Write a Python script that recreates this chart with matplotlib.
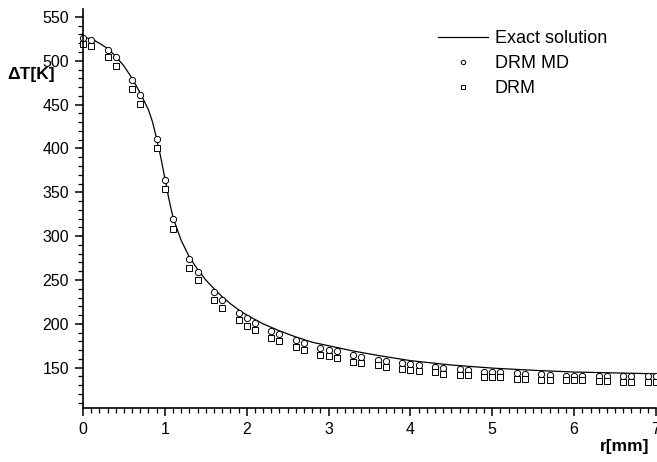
import matplotlib
matplotlib.use('Agg')
import matplotlib.pyplot as plt
from matplotlib.ticker import MultipleLocator

plt.rcParams['font.family'] = ['Liberation Sans', 'DejaVu Sans']

# exact solution
r_exact = [0.0, 0.1, 0.2, 0.3, 0.4, 0.5, 0.6, 0.7, 0.8, 0.85, 0.9, 0.95, 1.0, 1.05, 1.1,
           1.2, 1.3, 1.4, 1.5, 1.6, 1.7, 1.8, 1.9, 2.0, 2.2, 2.4, 2.6, 2.8, 3.0,
           3.3, 3.6, 4.0, 4.5, 5.0, 5.5, 6.0, 6.5, 7.0]
t_exact = [527, 525, 520, 514, 505, 494, 480, 463, 444, 430, 411, 390, 366, 342, 321,
           295, 276, 262, 250, 240, 231, 223, 216, 210, 200, 192, 185, 179, 175,
           169, 164, 158, 153, 149.5, 147, 145, 144, 143]

# node positions
r_nodes = [0.0, 0.1, 0.3, 0.4, 0.6, 0.7, 0.9, 1.0, 1.1, 1.3, 1.4, 1.6, 1.7, 1.9, 2.0,
           2.1, 2.3, 2.4, 2.6, 2.7, 2.9, 3.0, 3.1, 3.3, 3.4, 3.6, 3.7, 3.9, 4.0,
           4.1, 4.3, 4.4, 4.6, 4.7, 4.9, 5.0, 5.1, 5.3, 5.4, 5.6, 5.7, 5.9, 6.0,
           6.1, 6.3, 6.4, 6.6, 6.7, 6.9, 7.0]

t_drm_md = [526, 524, 512, 504, 478, 461, 411, 364, 319, 274, 259, 236, 227, 212, 207,
            201, 192, 188, 181, 178, 172, 170.5, 168.5, 164, 162, 159, 158, 155, 154,
            152.5, 150.5, 149.5, 148, 147, 145.5, 145, 145, 143.5, 143, 142.5, 142, 141, 141,
            141, 140.5, 140.5, 140, 140, 140, 140]

t_drm = [519, 517, 504, 494.5, 468, 451, 400, 354, 308, 264, 249.5, 227, 218, 204, 198,
         193, 184, 180, 173.5, 170.5, 165, 163, 160.5, 157, 155.5, 152.5, 151, 148, 147,
         146, 144.5, 143, 141.5, 141.5, 139.5, 139, 139, 137.5, 137.5, 136.5, 136.5, 135.5, 135.5,
         135.5, 134.5, 134.5, 134, 134, 134, 134]

fig = plt.figure(figsize=(6.57, 4.62), dpi=100)
ax = fig.add_axes([83/657, 1 - 408/462, 573/657, 399/462])

ax.plot(r_exact, t_exact, color='black', lw=0.9, label='Exact solution')
ax.plot(r_nodes, t_drm_md, 'o', mfc='white', mec='black', mew=0.7, ms=4.5,
        label='DRM MD', clip_on=False)
ax.plot(r_nodes, t_drm, 's', mfc='white', mec='black', mew=0.7, ms=4.0,
        label='DRM', clip_on=False)

ax.set_xlim(0, 7)
ax.set_ylim(104, 559)
ax.xaxis.set_major_locator(MultipleLocator(1))
ax.xaxis.set_minor_locator(MultipleLocator(0.1))
ax.yaxis.set_minor_locator(MultipleLocator(10))
ax.set_yticks(range(150, 551, 50))

for s in ['top', 'right']:
    ax.spines[s].set_visible(False)
for s in ['left', 'bottom']:
    ax.spines[s].set_linewidth(1.2)

ax.tick_params(which='major', direction='out', length=6, width=1.1, labelsize=11.5, pad=4)
ax.tick_params(which='minor', direction='out', length=3.5, width=0.9)

fig.text(31/657, 1 - 75/462, '\u0394T[K]', fontsize=12.5, fontweight='bold',
         ha='center', va='center')
fig.text(625/657, 1 - 446/462, 'r[mm]', fontsize=12.5, fontweight='bold',
         ha='center', va='center')

ax.legend(loc='upper left', bbox_to_anchor=(438/657, 1 - 30/462),
          bbox_transform=fig.transFigure, frameon=False, fontsize=13,
          handlelength=2.75, handletextpad=0.4, labelspacing=0.45,
          markerscale=0.7, borderpad=0, borderaxespad=0)

fig.savefig('out.png', dpi=100)
